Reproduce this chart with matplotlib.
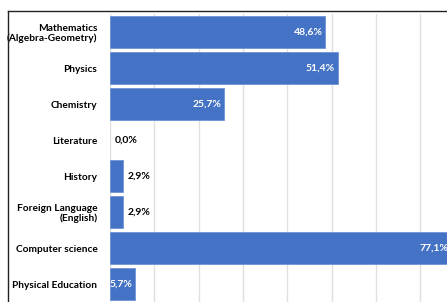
import matplotlib
matplotlib.use("Agg")
import matplotlib.pyplot as plt
from matplotlib.lines import Line2D

subjects = ["Mathematics\n(Algebra-Geometry)", "Physics", "Chemistry", "Literature",
            "History", "Foreign Language\n(English)", "Computer science", "Physical Education"]
percent = [48.6, 51.4, 25.7, 0.0, 2.9, 2.9, 77.1, 5.7]
# labels drawn inside the bar (white) or outside (black)
inside = [True, True, True, False, False, False, True, True]

W, H = 447, 302
fig = plt.figure(figsize=(W / 100, H / 100), dpi=100)

px_per_pct = 4.43
ax = fig.add_axes([110 / W, 0, 80 * px_per_pct / W, 288 / H])
ax.set_xlim(0, 80)
ax.set_ylim(len(subjects) - 0.5, -0.5)

y = list(range(len(subjects)))
bars = ax.barh(y, percent, height=0.89, color="#4472C4", edgecolor="#6f93d6", linewidth=0.6, zorder=2)
for b, v in zip(bars, percent):
    if v == 0:
        b.set_linewidth(0)

ax.set_xticks(range(0, 81, 10))
ax.xaxis.grid(True, color="#e0e0e0", linewidth=1)
ax.tick_params(axis="x", length=0, labelbottom=False)
ax.tick_params(axis="y", length=0, pad=9)
ax.set_yticks(y)
ax.set_yticklabels(subjects, fontsize=7.3, fontweight="bold", family="Lato", linespacing=1.05)
for s in ax.spines.values():
    s.set_visible(False)

for i, v in enumerate(percent):
    txt = f"{v:.1f}%".replace(".", ",")
    if inside[i]:
        ax.text(v - 0.6, i, txt, ha="right", va="center", color="white",
                fontsize=7.5, fontweight="bold", family="Lato", zorder=3)
    else:
        ax.text(v + 1.0, i, txt, ha="left", va="center", color="black",
                fontsize=7.5, fontweight="bold", family="Lato", zorder=3)

# chart border (top and left edge of the cropped frame)
fig.add_artist(Line2D([8 / W, 1], [1 - 11 / H, 1 - 11 / H], color="#222222", linewidth=1.0))
fig.add_artist(Line2D([8 / W, 8 / W], [0, 1 - 11 / H], color="#222222", linewidth=1.0))

fig.savefig("out.png", dpi=100)
